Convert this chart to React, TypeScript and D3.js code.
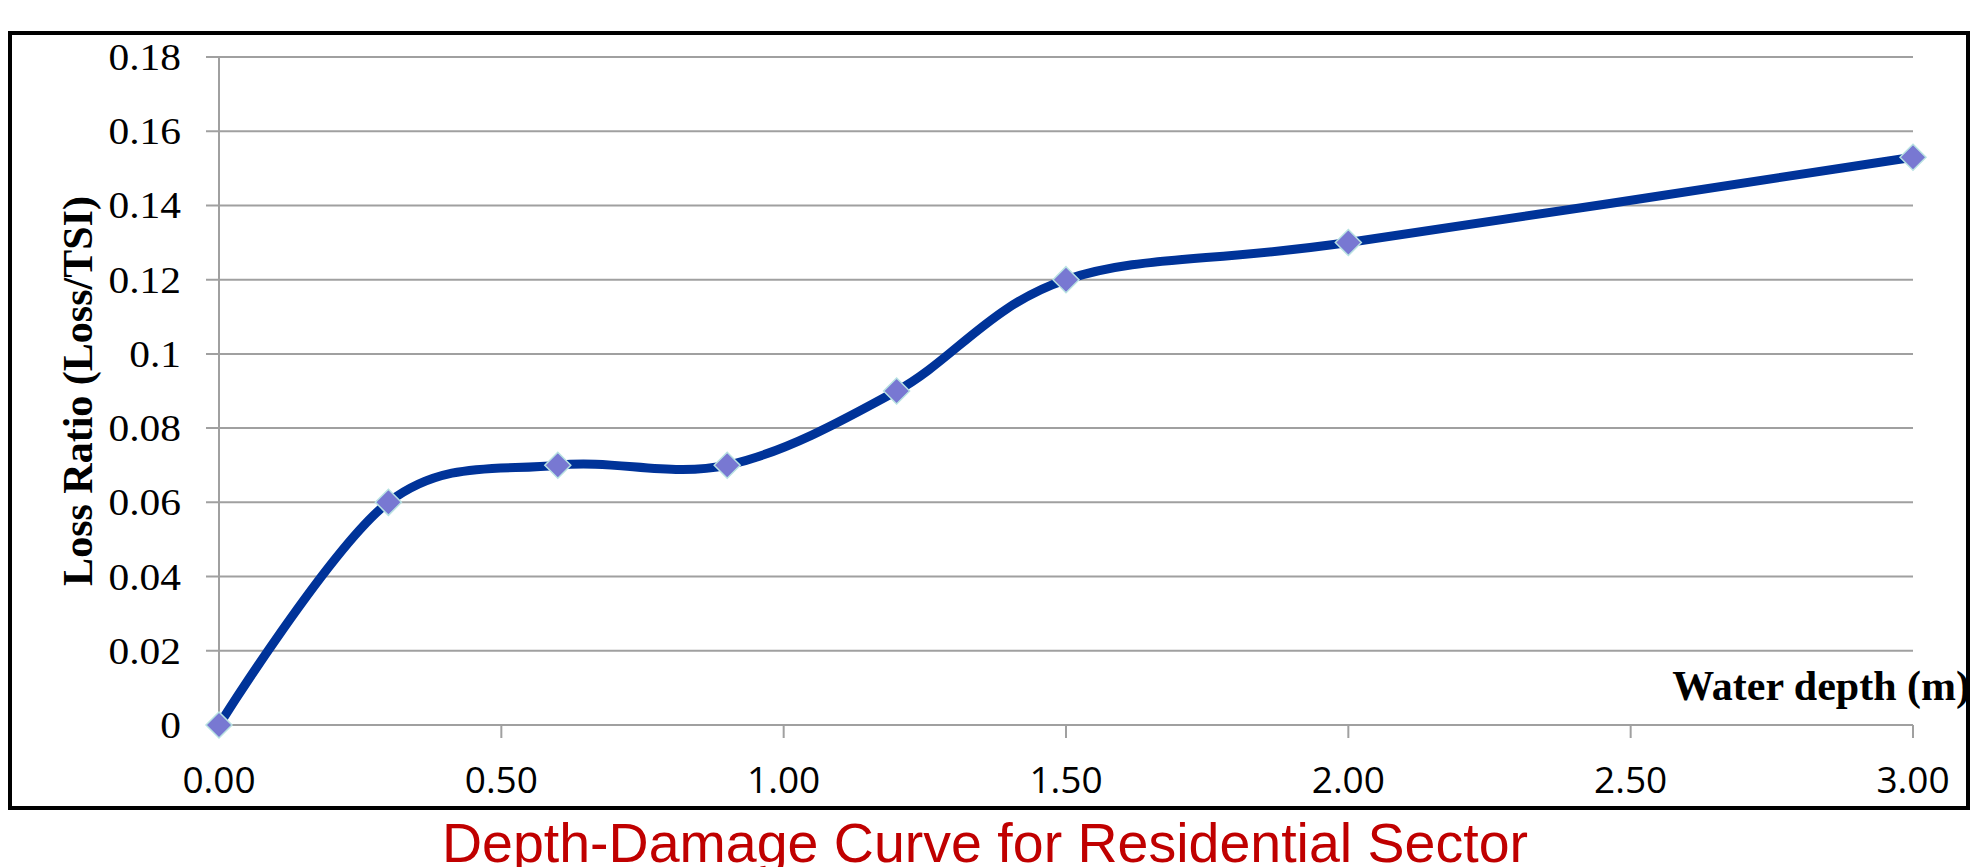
import React from 'react';
import * as d3 from 'd3';

// depth (m) vs loss ratio
const depths = [0, 0.3, 0.6, 0.9, 1.2, 1.5, 2.0, 3.0];
const lossRatios = [0, 0.06, 0.07, 0.07, 0.09, 0.12, 0.13, 0.153];

const yTicks = [0, 0.02, 0.04, 0.06, 0.08, 0.1, 0.12, 0.14, 0.16, 0.18];
const yTickLabels = ['0', '0.02', '0.04', '0.06', '0.08', '0.1', '0.12', '0.14', '0.16', '0.18'];
const xTicks = [0, 0.5, 1, 1.5, 2, 2.5, 3];
const xTickLabels = ['0.00', '0.50', '1.00', '1.50', '2.00', '2.50', '3.00'];

const W = 1971;
const H = 867;
const gridColor = '#a0a0a0';

export default function App() {
  const x = d3.scaleLinear().domain([0, 3]).range([219, 1913]);
  const y = d3.scaleLinear().domain([0, 0.18]).range([725, 57]);

  const pts: [number, number][] = depths.map((d, i) => [d, lossRatios[i]]);
  const line = d3
    .line<[number, number]>()
    .x((d) => x(d[0]))
    .y((d) => y(d[1]))
    .curve(d3.curveCardinal.tension(0));

  const diamond = (cx: number, cy: number, r: number) =>
    `M${cx},${cy - r}L${cx + r},${cy}L${cx},${cy + r}L${cx - r},${cy}Z`;

  return (
    <div style={{position: 'absolute', left: 0, top: 0}}>
      <svg width={W} height={H} style={{display: 'block', background: '#fff'}}>
        {/* frame */}
        <rect x={10} y={33} width={1958} height={775} fill="none" stroke="#000" strokeWidth={4} />

        {/* gridlines */}
        {yTicks.map((t) => (
          <line key={'g' + t} x1={x(0) - 13} x2={x(3)} y1={y(t)} y2={y(t)} stroke={gridColor} strokeWidth={2} />
        ))}
        {/* y axis */}
        <line x1={x(0)} x2={x(0)} y1={y(0.18)} y2={y(0) + 13} stroke={gridColor} strokeWidth={2} />
        {/* x ticks */}
        {xTicks.map((t) => (
          <line key={'xt' + t} x1={x(t)} x2={x(t)} y1={y(0)} y2={y(0) + 13} stroke={gridColor} strokeWidth={2} />
        ))}

        {/* y labels */}
        {yTicks.map((t, i) => (
          <text
            key={'yl' + t}
            transform={`translate(181,${y(t) + 13}) scale(1.12,1)`}
            textAnchor="end"
            fontFamily="'Liberation Serif', 'Times New Roman', serif"
            fontSize={37}
            fill="#000"
          >
            {yTickLabels[i]}
          </text>
        ))}

        {/* x labels */}
        {xTicks.map((t, i) => (
          <text
            key={'xl' + t}
            x={x(t)}
            y={793}
            textAnchor="middle"
            fontFamily="'Open Sans', sans-serif"
            fontSize={37}
            fill="#000"
          >
            {xTickLabels[i]}
          </text>
        ))}

        {/* axis titles */}
        <text
          transform="translate(92,391) rotate(-90)"
          textAnchor="middle"
          fontFamily="'Liberation Serif', 'Times New Roman', serif"
          fontWeight="bold"
          fontSize={42}
        >
          Loss Ratio (Loss/TSI)
        </text>
        <text
          x={1970}
          y={700}
          textAnchor="end"
          fontFamily="'Liberation Serif', 'Times New Roman', serif"
          fontWeight="bold"
          fontSize={42}
        >
          Water depth (m)
        </text>

        {/* curve */}
        <path d={line(pts) || ''} fill="none" stroke="#003399" strokeWidth={9} strokeLinejoin="round" />
        {pts.map((p, i) => (
          <path
            key={'m' + i}
            d={diamond(x(p[0]), y(p[1]), 13)}
            fill="#7878d2"
            stroke="#b8e2e2"
            strokeWidth={1.5}
          />
        ))}

        {/* caption */}
        <text
          x={985}
          y={862}
          textAnchor="middle"
          fontFamily="'Liberation Sans', Arial, sans-serif"
          fontSize={56}
          fill="#c00000"
          textLength={1086}
          lengthAdjust="spacingAndGlyphs"
        >
          Depth-Damage Curve for Residential Sector
        </text>
      </svg>
    </div>
  );
}
